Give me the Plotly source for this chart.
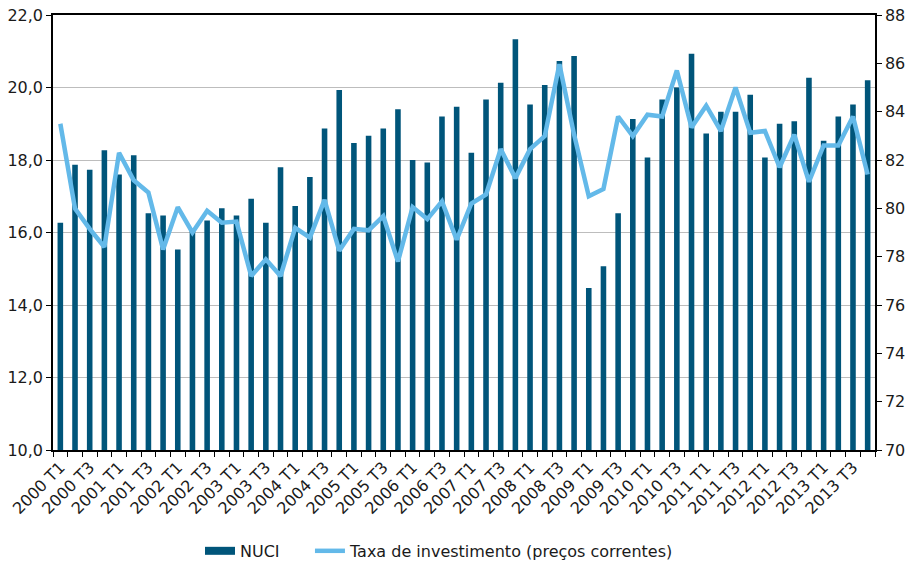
import plotly.graph_objects as go

years = list(range(2000, 2014))
quarters = [f"{y} T{q}" for y in years for q in range(1, 5)]
tick_text = [q if i % 2 == 0 else "" for i, q in enumerate(quarters)]

nuci = [79.4, 81.8, 81.6, 82.4, 81.4, 82.2, 79.8, 79.7,
        78.3, 79.1, 79.5, 80.0, 79.7, 80.4, 79.4, 81.7,
        80.1, 81.3, 83.3, 84.9, 82.7, 83.0, 83.3, 84.1,
        82.0, 81.9, 83.8, 84.2, 82.3, 84.5, 85.2, 87.0,
        84.3, 85.1, 86.1, 86.3, 76.7, 77.6, 79.8, 83.7,
        82.1, 84.5, 85.0, 86.4, 83.1, 84.0, 84.0, 84.7,
        82.1, 83.5, 83.6, 85.4, 82.8, 83.8, 84.3, 85.3]

taxa = [19.0, 16.66, 16.1, 15.6, 18.2, 17.44, 17.1, 15.53,
        16.7, 16.0, 16.6, 16.27, 16.3, 14.8, 15.26, 14.8,
        16.13, 15.86, 16.9, 15.5, 16.1, 16.06, 16.45, 15.2,
        16.7, 16.37, 16.86, 15.8, 16.8, 17.05, 18.3, 17.5,
        18.3, 18.66, 20.64, 18.7, 17.0, 17.2, 19.2, 18.66,
        19.25, 19.2, 20.47, 18.9, 19.5, 18.8, 20.0, 18.75,
        18.8, 17.8, 18.7, 17.4, 18.4, 18.4, 19.2, 17.6]

FONT = "DejaVu Sans"
BAR_COLOR = "#00557a"
LINE_COLOR = "#63b9e9"

fig = go.Figure()
fig.add_trace(go.Bar(x=quarters, y=nuci, name="NUCI", yaxis="y", showlegend=False,
                     marker=dict(color=BAR_COLOR, line=dict(width=0))))
fig.add_trace(go.Scatter(x=quarters, y=taxa, name="Taxa de investimento (preços correntes)",
                         yaxis="y2", mode="lines", showlegend=False,
                         line=dict(color=LINE_COLOR, width=4.5)))
# legend entries (rectangle-like key for the bars)
fig.add_trace(go.Scatter(x=[None], y=[None], name="NUCI", mode="lines", yaxis="y2",
                         legend="legend", line=dict(color=BAR_COLOR, width=8)))
fig.add_trace(go.Scatter(x=[None], y=[None], name="Taxa de investimento (preços correntes)",
                         mode="lines", yaxis="y2", legend="legend2",
                         line=dict(color=LINE_COLOR, width=4.5)))

leg_common = dict(orientation="h", xanchor="left", y=-0.232, yanchor="middle",
                  font=dict(size=16), itemwidth=30, bgcolor="rgba(0,0,0,0)")

fig.update_layout(
    width=911, height=563,
    margin=dict(l=53, r=36, t=15, b=113, autoexpand=False),
    paper_bgcolor="white", plot_bgcolor="white",
    separators=", ",
    font=dict(family=FONT, size=16, color="#1a1a1a"),
    bargap=0.62,
    showlegend=True,
    legend=dict(x=0.1788, **leg_common),
    legend2=dict(x=0.3126, **leg_common),
    xaxis=dict(type="category", tickmode="array", tickvals=quarters, ticktext=tick_text,
               tickangle=-45, tickson="boundaries", ticks="outside", ticklen=5,
               tickcolor="black", showline=True, linecolor="black", linewidth=1.5,
               mirror=True, showgrid=False, tickfont=dict(size=16), automargin=False,
               range=[-0.5, len(quarters) - 0.5]),
    yaxis=dict(side="right", range=[70, 88], dtick=2, tick0=70, showgrid=False,
               ticks="outside", ticklen=5, tickcolor="black", showline=True,
               linecolor="black", linewidth=1.5, tickfont=dict(size=16), zeroline=False,
               automargin=False),
    yaxis2=dict(side="left", overlaying="y", range=[10, 22], dtick=2, tick0=10,
                tickformat=".1f", showgrid=True, gridcolor="#bdbdbd", gridwidth=1,
                ticks="outside", ticklen=5, tickcolor="black", showline=True,
                linecolor="black", linewidth=1.5, tickfont=dict(size=16), zeroline=False,
                automargin=False),
)

fig.write_html("out.html", config={"displayModeBar": False},
               post_script="document.body.style.margin='0';document.body.style.padding='0';")
